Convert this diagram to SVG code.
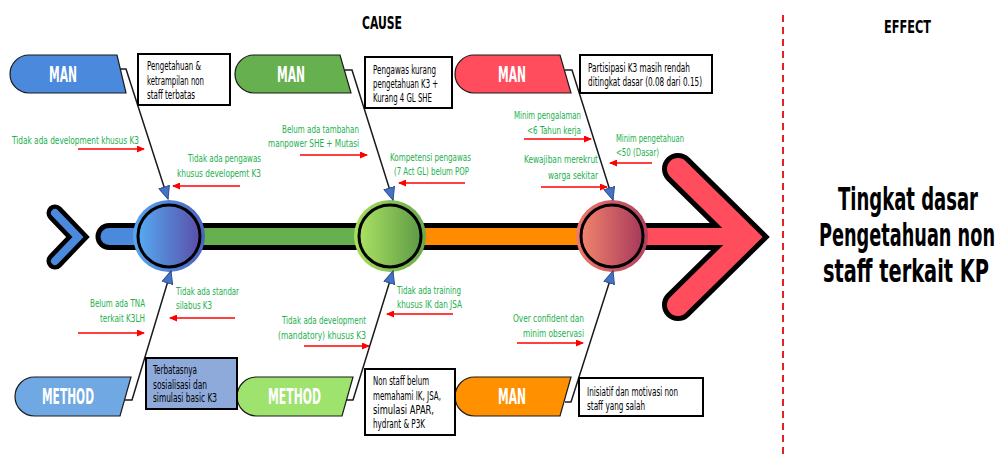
<svg xmlns="http://www.w3.org/2000/svg" width="1001" height="454" viewBox="0 0 1001 454">
<defs>
<style>
text{font-family:"DejaVu Sans Condensed","Liberation Sans Narrow","DejaVu Sans",sans-serif;font-stretch:condensed}
.g{fill:#22b04e;font-size:11px}
.b{fill:#000;font-size:11.5px}
.lbl{fill:#fff;font-size:22px;font-weight:bold}
.hd{fill:#000;font-size:17px;font-weight:bold}
.ef{fill:#000;font-size:32px;font-weight:bold}
.ra{stroke:#ff0000;stroke-width:1.6;fill:none;marker-end:url(#rh)}
.bone{stroke:#1a1a1a;stroke-width:1.5;fill:none;marker-end:url(#bh)}
.box{fill:#fff;stroke:#000;stroke-width:2}
.shp{stroke:#1a1a1a;stroke-width:1.2}
</style>
<marker id="rh" markerUnits="userSpaceOnUse" markerWidth="8" markerHeight="7" refX="7" refY="3.5" orient="auto"><path d="M0,0 L8,3.5 L0,7 z" fill="#ff0000"/></marker>
<marker id="bh" markerUnits="userSpaceOnUse" markerWidth="14" markerHeight="12" refX="13" refY="6" orient="auto"><path d="M0.5,0.5 L13,6 L0.5,11.5 z" fill="#4472c4" stroke="#2f4f8f" stroke-width="1"/></marker>
<linearGradient id="gb" x1="0" x2="1" y1="0" y2="0"><stop offset="0" stop-color="#56aaf2"/><stop offset="1" stop-color="#5a4ea8"/></linearGradient>
<linearGradient id="gbo" x1="0" x2="1"><stop offset="0" stop-color="#5aa4ee"/><stop offset="1" stop-color="#4a62c0"/></linearGradient>
<linearGradient id="gg" x1="0" x2="1"><stop offset="0" stop-color="#aae262"/><stop offset="1" stop-color="#5e9a46"/></linearGradient>
<linearGradient id="ggo" x1="0" x2="1"><stop offset="0" stop-color="#a6e05c"/><stop offset="1" stop-color="#6aa84a"/></linearGradient>
<linearGradient id="gr" x1="0" x2="1"><stop offset="0" stop-color="#f2846e"/><stop offset="1" stop-color="#a6385a"/></linearGradient>
<linearGradient id="gro" x1="0" x2="1"><stop offset="0" stop-color="#f07a6a"/><stop offset="1" stop-color="#b04060"/></linearGradient>
</defs>
<rect width="1001" height="454" fill="#fff"/>

<!-- headers -->
<text class="hd" x="362" y="29" textLength="40" lengthAdjust="spacingAndGlyphs">CAUSE</text>
<text class="hd" x="884" y="33" textLength="47" lengthAdjust="spacingAndGlyphs">EFFECT</text>
<line x1="783" y1="15" x2="783" y2="454" stroke="#e02424" stroke-width="2" stroke-dasharray="7,5"/>

<!-- spine -->
<g id="spine">
<polyline points="55,213 78,237 55,261" fill="none" stroke="#000" stroke-width="17" stroke-linecap="round" stroke-linejoin="miter"/>
<polyline points="55,213 78,237 55,261" fill="none" stroke="#4a89dc" stroke-width="8" stroke-linecap="round" stroke-linejoin="miter"/>
<line x1="109" y1="236.5" x2="745" y2="236.5" stroke="#000" stroke-width="27" stroke-linecap="round"/>
<polyline points="678,169 747,237 678,305" fill="none" stroke="#000" stroke-width="32" stroke-linecap="round" stroke-linejoin="miter"/>
<line x1="109" y1="236.5" x2="170" y2="236.5" stroke="#4a89dc" stroke-width="17" stroke-linecap="round"/>
<line x1="170" y1="236.5" x2="390" y2="236.5" stroke="#66b050" stroke-width="17"/>
<line x1="390" y1="236.5" x2="612" y2="236.5" stroke="#ff8c00" stroke-width="17"/>
<line x1="612" y1="236.5" x2="740" y2="236.5" stroke="#ff4d5e" stroke-width="17"/>
<polyline points="678,169 747,237 678,305" fill="none" stroke="#ff4d5e" stroke-width="22" stroke-linecap="round" stroke-linejoin="miter"/>
</g>

<!-- circles -->
<g id="hub-blue"><circle cx="169" cy="236" r="36" fill="url(#gbo)"/><circle cx="169" cy="236" r="31" fill="url(#gb)" stroke="#000" stroke-width="3"/></g>
<g id="hub-green"><circle cx="390" cy="236" r="36" fill="url(#ggo)"/><circle cx="390" cy="236" r="31" fill="url(#gg)" stroke="#000" stroke-width="3"/></g>
<g id="hub-red"><circle cx="612" cy="236" r="36" fill="url(#gro)"/><circle cx="612" cy="236" r="31" fill="url(#gr)" stroke="#000" stroke-width="3"/></g>

<!-- connectors -->
<g id="connectors">
<polyline class="bone" points="120,69 126,69 168,199"/>
<polyline class="bone" points="345,70 352,70 393,200"/>
<polyline class="bone" points="565,70 572,70 613,200"/>
<polyline class="bone" points="125,400 132,400 171,271"/>
<polyline class="bone" points="347,400 353,400 393,271"/>
<polyline class="bone" points="565,402 571,402 613,271"/>
<line class="ra" x1="78" y1="149" x2="144" y2="149"/>
<line class="ra" x1="240" y1="186" x2="173" y2="186"/>
<line class="ra" x1="300" y1="155" x2="367" y2="155"/>
<line class="ra" x1="465" y1="183" x2="399" y2="183"/>
<line class="ra" x1="524" y1="139" x2="591" y2="139"/>
<line class="ra" x1="652" y1="163" x2="610" y2="163"/>
<line class="ra" x1="541" y1="187" x2="607" y2="187"/>
<line class="ra" x1="235" y1="318" x2="170" y2="318"/>
<line class="ra" x1="78" y1="333" x2="144" y2="333"/>
<line class="ra" x1="304" y1="346" x2="369" y2="346"/>
<line class="ra" x1="453" y1="314" x2="387" y2="314"/>
<line class="ra" x1="517" y1="343" x2="583" y2="343"/>
</g>

<!-- category nodes -->
<g id="man-blue"><path class="shp" d="M29,55 H117 L126,93 H29 A19,19 0 0 1 29,55 Z" fill="#4a89dc"/><text class="lbl" x="49" y="82" textLength="28" lengthAdjust="spacingAndGlyphs">MAN</text></g>
<g id="man-green"><path class="shp" d="M254,55 H340 L351,93 H254 A19,19 0 0 1 254,55 Z" fill="#66b050"/><text class="lbl" x="277" y="82" textLength="28" lengthAdjust="spacingAndGlyphs">MAN</text></g>
<g id="man-red"><path class="shp" d="M474,55 H560 L571,93 H474 A19,19 0 0 1 474,55 Z" fill="#ff4d5e"/><text class="lbl" x="498" y="82" textLength="28" lengthAdjust="spacingAndGlyphs">MAN</text></g>
<g id="method-blue"><path class="shp" d="M34.5,377 H131 L120,416 H34.5 A19.5,19.5 0 0 1 34.5,377 Z" fill="#6fa8e2"/><text class="lbl" x="42" y="404" textLength="52" lengthAdjust="spacingAndGlyphs">METHOD</text></g>
<g id="method-green"><path class="shp" d="M256.5,377 H353 L342,416 H256.5 A19.5,19.5 0 0 1 256.5,377 Z" fill="#9ee36e"/><text class="lbl" x="268" y="404" textLength="53" lengthAdjust="spacingAndGlyphs">METHOD</text></g>
<g id="man-orange"><path class="shp" d="M474.5,377 H571 L560,416 H474.5 A19.5,19.5 0 0 1 474.5,377 Z" fill="#ff9000"/><text class="lbl" x="498" y="404" textLength="28" lengthAdjust="spacingAndGlyphs">MAN</text></g>

<!-- boxes -->
<g id="box1"><rect class="box" x="138" y="54" width="92" height="51"/>
<text class="b" x="147" y="70" textLength="54" lengthAdjust="spacingAndGlyphs">Pengetahuan &amp;</text>
<text class="b" x="147" y="85" textLength="57" lengthAdjust="spacingAndGlyphs">ketrampilan non</text>
<text class="b" x="147" y="99" textLength="48" lengthAdjust="spacingAndGlyphs">staff terbatas</text></g>
<g id="box2"><rect class="box" x="365" y="57" width="87" height="51"/>
<text class="b" x="373" y="74" textLength="63" lengthAdjust="spacingAndGlyphs">Pengawas kurang</text>
<text class="b" x="373" y="88" textLength="65" lengthAdjust="spacingAndGlyphs">pengetahuan K3 +</text>
<text class="b" x="373" y="102" textLength="59" lengthAdjust="spacingAndGlyphs">Kurang 4 GL SHE</text></g>
<g id="box3"><rect class="box" x="580" y="55" width="132" height="38"/>
<text class="b" x="588" y="72" textLength="102" lengthAdjust="spacingAndGlyphs">Partisipasi K3 masih rendah</text>
<text class="b" x="588" y="86" textLength="114" lengthAdjust="spacingAndGlyphs">ditingkat dasar (0.08 dari 0.15)</text></g>
<g id="box4"><rect class="box" x="146" y="358" width="91" height="51" style="fill:#8eaadb"/>
<text class="b" x="153" y="374" textLength="44" lengthAdjust="spacingAndGlyphs">Terbatasnya</text>
<text class="b" x="153" y="389" textLength="54" lengthAdjust="spacingAndGlyphs">sosialisasi dan</text>
<text class="b" x="153" y="402" textLength="64" lengthAdjust="spacingAndGlyphs">simulasi basic K3</text></g>
<g id="box5"><rect class="box" x="365" y="369" width="90" height="66"/>
<text class="b" x="373" y="385" textLength="56" lengthAdjust="spacingAndGlyphs">Non staff belum</text>
<text class="b" x="373" y="400" textLength="68" lengthAdjust="spacingAndGlyphs">memahami IK, JSA,</text>
<text class="b" x="373" y="414" textLength="61" lengthAdjust="spacingAndGlyphs">simulasi APAR,</text>
<text class="b" x="373" y="428" textLength="52" lengthAdjust="spacingAndGlyphs">hydrant &amp; P3K</text></g>
<g id="box6"><rect class="box" x="579" y="378" width="124" height="38"/>
<text class="b" x="587" y="396" textLength="91" lengthAdjust="spacingAndGlyphs">Inisiatif dan motivasi non</text>
<text class="b" x="587" y="410" textLength="58" lengthAdjust="spacingAndGlyphs">staff yang salah</text></g>

<!-- cause labels -->
<g id="causes">
<text class="g" x="12" y="144" textLength="127" lengthAdjust="spacingAndGlyphs">Tidak ada development khusus K3</text>
<text class="g" x="188" y="162" textLength="73" lengthAdjust="spacingAndGlyphs">Tidak ada pengawas</text>
<text class="g" x="177" y="177" textLength="84" lengthAdjust="spacingAndGlyphs">khusus developemt K3</text>
<text class="g" x="282" y="133" textLength="77" lengthAdjust="spacingAndGlyphs">Belum ada tambahan</text>
<text class="g" x="268" y="147" textLength="91" lengthAdjust="spacingAndGlyphs">manpower SHE + Mutasi</text>
<text class="g" x="390" y="161" textLength="81" lengthAdjust="spacingAndGlyphs">Kompetensi pengawas</text>
<text class="g" x="394" y="175" textLength="75" lengthAdjust="spacingAndGlyphs">(7 Act GL) belum POP</text>
<text class="g" x="514" y="119" textLength="67" lengthAdjust="spacingAndGlyphs">Minim pengalaman</text>
<text class="g" x="527" y="134" textLength="54" lengthAdjust="spacingAndGlyphs">&lt;6 Tahun kerja</text>
<text class="g" x="616" y="142" textLength="68" lengthAdjust="spacingAndGlyphs">Minim pengetahuan</text>
<text class="g" x="616" y="156" textLength="43" lengthAdjust="spacingAndGlyphs">&lt;50 (Dasar)</text>
<text class="g" x="524" y="163" textLength="74" lengthAdjust="spacingAndGlyphs">Kewajiban merekrut</text>
<text class="g" x="548" y="179" textLength="50" lengthAdjust="spacingAndGlyphs">warga sekitar</text>
<text class="g" x="176" y="295" textLength="63" lengthAdjust="spacingAndGlyphs">Tidak ada standar</text>
<text class="g" x="176" y="309" textLength="36" lengthAdjust="spacingAndGlyphs">silabus K3</text>
<text class="g" x="90" y="307" textLength="55" lengthAdjust="spacingAndGlyphs">Belum ada TNA</text>
<text class="g" x="100" y="322" textLength="45" lengthAdjust="spacingAndGlyphs">terkait K3LH</text>
<text class="g" x="282" y="324" textLength="84" lengthAdjust="spacingAndGlyphs">Tidak ada development</text>
<text class="g" x="278" y="339" textLength="88" lengthAdjust="spacingAndGlyphs">(mandatory) khusus K3</text>
<text class="g" x="397" y="294" textLength="64" lengthAdjust="spacingAndGlyphs">Tidak ada training</text>
<text class="g" x="397" y="308" textLength="65" lengthAdjust="spacingAndGlyphs">khusus IK dan JSA</text>
<text class="g" x="513" y="322" textLength="71" lengthAdjust="spacingAndGlyphs">Over confident dan</text>
<text class="g" x="523" y="337" textLength="61" lengthAdjust="spacingAndGlyphs">minim observasi</text>
</g>

<!-- effect -->
<g id="effect">
<text class="ef" x="838" y="210" textLength="140" lengthAdjust="spacingAndGlyphs">Tingkat dasar</text>
<text class="ef" x="819" y="246" textLength="176" lengthAdjust="spacingAndGlyphs">Pengetahuan non</text>
<text class="ef" x="823" y="282" textLength="166" lengthAdjust="spacingAndGlyphs">staff terkait KP</text>
</g>
</svg>
